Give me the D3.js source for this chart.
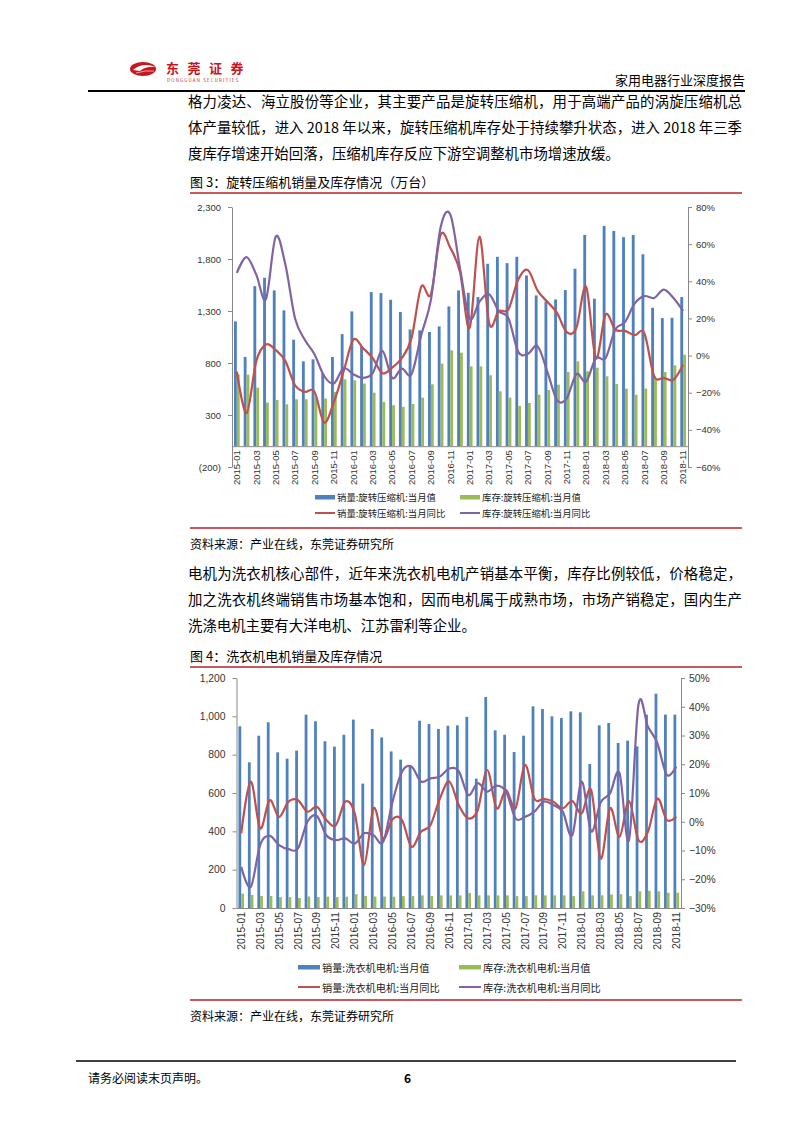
<!DOCTYPE html>
<html>
<head>
<meta charset="utf-8">
<script src="https://cdn.jsdelivr.net/npm/d3@7"></script>
<style>
  body { margin: 0; background: #fff; }
  svg text { font-family: "Noto Sans CJK SC", "Noto Sans", sans-serif; }
  .ax text { font-family: "Liberation Sans", Arial, sans-serif; fill: #333; }
  .ax path, .ax line { stroke: #888; }
</style>
</head>
<body>
<svg id="page" width="802" height="1133"></svg>
<script>
// 月份（两张图共用）
const months = [
  "2015-01","2015-02","2015-03","2015-04","2015-05","2015-06","2015-07","2015-08","2015-09","2015-10","2015-11","2015-12",
  "2016-01","2016-02","2016-03","2016-04","2016-05","2016-06","2016-07","2016-08","2016-09","2016-10","2016-11","2016-12",
  "2017-01","2017-02","2017-03","2017-04","2017-05","2017-06","2017-07","2017-08","2017-09","2017-10","2017-11","2017-12",
  "2018-01","2018-02","2018-03","2018-04","2018-05","2018-06","2018-07","2018-08","2018-09","2018-10","2018-11"
];

// 图3 旋转压缩机（万台，同比%）
const compSales = [1200, 858, 1539, 1619, 1498, 1306, 1024, 816, 835, 700, 858, 1078,
  1296, 960, 1482, 1472, 1408, 1290, 1123, 1114, 1098, 1152, 1344, 1498,
  1475, 1434, 1754, 1821, 1760, 1821, 1642, 1450, 1392, 1411, 1501, 1706,
  2032, 1418, 2118, 2070, 2010, 2032, 1846, 1331, 1232, 1235, 1434];
const compStock = [690, 688, 563, 419, 445, 403, 451, 451, 470, 458, 522, 643,
  634, 602, 515, 426, 394, 378, 406, 467, 595, 794, 922, 899,
  768, 768, 682, 528, 467, 387, 416, 496, 540, 592, 714, 816,
  720, 755, 672, 598, 554, 496, 554, 650, 714, 778, 880];
const compSalesYoy = [-8.6, -31, -3, 6, 3, -3, -16, -19.5, -19.5, -36, -25, -8.6,
  8.5, 4, -1.4, -9.5, -6.5, -1.4, 9.4, 37, 33, 65, 58, 45,
  15, 64, 17.5, 24, 25, 41, 46, 35, 29, 23, 12.6, 15,
  37, -1.4, 22, 14, 13.3, 11, 12, -11, -12, -13, -5];
const compStockYoy = [44.5, 53, 43.6, 30.5, 64, 49, 20, 8.5, 0.7, -11, -15, -6.8,
  -10, -12, -9.5, 2.5, -12, -7, -10, 11, 30, 69, 76, 47,
  20, 29, 33, 24, 20, 2, 1, 5, -8.6, -24, -23, -10,
  -14, -1.4, -1.4, 14, 18, 28, 32, 31, 35.5, 31, 24];

// 图4 洗衣机电机
const motorSales = [948, 760, 899, 969, 812, 779, 821, 1009, 974, 870, 842, 904,
  983, 649, 934, 890, 817, 774, 740, 977, 960, 934, 951, 953,
  997, 675, 1101, 927, 904, 814, 899, 1052, 1038, 1000, 991, 1026,
  1021, 751, 953, 965, 861, 873, 843, 1009, 1118, 1009, 1009];
const motorStock = [75, 68, 63, 63, 57, 57, 52, 60, 57, 59, 57, 59,
  72, 63, 60, 60, 59, 62, 62, 66, 62, 66, 66, 66,
  78, 66, 66, 66, 66, 62, 62, 66, 66, 66, 66, 62,
  87, 66, 66, 70, 72, 62, 87, 90, 87, 80, 80];
const motorSalesYoy = [-4, 14, -2.3, 7.5, 1.7, 7, 7.5, 3.5, 5.2, 0.6, -1.2, 7,
  2.9, -15, 4.7, -5.8, 0.9, 0.6, -8.7, -3.5, -1.2, 8, 14, 5.8,
  1.2, 4, 18, 4.7, 11, 4.7, 19.8, 8, 8, 7, 4.7, 7.2,
  2.9, 11, -12.8, 4.7, -5.2, 7.2, -6.4, -3.5, 8, 0.6, 1.7];
const motorStockYoy = [-15.7, -22.7, -8.1, -4.9, -8.1, -9.5, -9.3, 0, 2, -4.7, -6.4, -5.8,
  -7.6, -4, -4.7, -7, 7, 17.4, 19.2, 14, 15.1, 15.7, 18.5, 17.6,
  9.3, 13.4, 10.5, 12.6, 10.5, 1.2, 1.7, 3.5, 7, 5.8, 3.5, -4.7,
  14, -3.3, 6.7, 9.9, 16.9, -6.4, 40.7, 33.1, 27.3, 16.3, 19.2];

// 轴刻度
const compLeftTicks = [-200, 300, 800, 1300, 1800, 2300];
const compRightTicks = [-0.6, -0.4, -0.2, 0, 0.2, 0.4, 0.6, 0.8];
const motorLeftTicks = [0, 200, 400, 600, 800, 1000, 1200];
const motorRightTicks = [-0.3, -0.2, -0.1, 0, 0.1, 0.2, 0.3, 0.4, 0.5];

const BLUE = "#4F81BD", GREEN = "#9BBB59", RED = "#C0504D", PURPLE = "#8064A2", DARKRED = "#B8202A";

const svg = d3.select("#page");

// ---------- 页眉 ----------
const logo = svg.append("g");
logo.append("ellipse").attr("cx", 143).attr("cy", 69).attr("rx", 13).attr("ry", 7).attr("fill", "#C8161D");
logo.append("path").attr("d", "M133,70 Q142,62 156,67 Q146,66 140,71 Z").attr("fill", "#fff");
logo.append("path").attr("d", "M136,73 Q146,70 154,71").attr("stroke", "#E8A0A0").attr("stroke-width", 1).attr("fill", "none");
logo.append("text").attr("x", 166).attr("y", 73).attr("fill", "#C8161D")
  .attr("font-size", 13).attr("font-weight", "bold").attr("letter-spacing", 8.5).text("东莞证券");
logo.append("text").attr("x", 167).attr("y", 81.5).attr("fill", "#C8161D")
  .attr("font-size", 4.4).attr("letter-spacing", 1.2).attr("font-family", "Liberation Sans").text("DONGGUAN SECURITIES");

svg.append("text").attr("x", 745).attr("y", 85).attr("text-anchor", "end")
  .attr("font-size", 13).attr("fill", "#000").text("家用电器行业深度报告");
svg.append("line").attr("x1", 88).attr("x2", 745).attr("y1", 91).attr("y2", 91)
  .attr("stroke", "#000").attr("stroke-width", 1.8);

// ---------- 正文 ----------
function para(lines, y0, lastFull) {
  lines.forEach((t, i) => {
    const el = svg.append("text").attr("x", 188).attr("y", y0 + i * 26)
      .attr("dominant-baseline", "central").attr("font-size", 14.4).attr("fill", "#000").text(t);
    if (i < lines.length - 1 || lastFull) el.attr("textLength", 554).attr("lengthAdjust", "spacing");
  });
}
para(["格力凌达、海立股份等企业，其主要产品是旋转压缩机，用于高端产品的涡旋压缩机总",
      "体产量较低，进入 2018 年以来，旋转压缩机库存处于持续攀升状态，进入 2018 年三季",
      "度库存增速开始回落，压缩机库存反应下游空调整机市场增速放缓。"], 100, false);
para(["电机为洗衣机核心部件，近年来洗衣机电机产销基本平衡，库存比例较低，价格稳定，",
      "加之洗衣机终端销售市场基本饱和，因而电机属于成熟市场，市场产销稳定，国内生产",
      "洗涤电机主要有大洋电机、江苏雷利等企业。"], 572, false);

function figTitle(t, y) {
  svg.append("text").attr("x", 190).attr("y", y).attr("dominant-baseline", "central")
    .attr("font-size", 13).attr("fill", "#000").text(t);
  svg.append("line").attr("x1", 190).attr("x2", 742).attr("y1", y + 12).attr("y2", y + 12)
    .attr("stroke", DARKRED).attr("stroke-width", 1.5);
}
function source(y) {
  svg.append("line").attr("x1", 190).attr("x2", 742).attr("y1", y).attr("y2", y)
    .attr("stroke", DARKRED).attr("stroke-width", 1.5);
  svg.append("text").attr("x", 190).attr("y", y + 15).attr("dominant-baseline", "central")
    .attr("font-size", 12).attr("fill", "#000").text("资料来源：产业在线，东莞证券研究所");
}

figTitle("图 3：旋转压缩机销量及库存情况（万台）", 181);
source(528);
figTitle("图 4：洗衣机电机销量及库存情况", 655);
source(1000);

// ---------- 图表 ----------
const fmtLeft = v => v < 0 ? `(${d3.format(",")(-v)})` : d3.format(",")(v);

function drawChart(c) {
  const g = svg.append("g");
  const x = d3.scaleBand().domain(months).range([c.x0, c.x1]);
  const yL = d3.scaleLinear().domain(c.leftDomain).range([c.yBottom, c.yTop]);
  const yR = d3.scaleLinear().domain(c.rightDomain).range([c.yBottom, c.yTop]);
  const bw = x.bandwidth() / 3.4;
  const cx = i => x(months[i]) + x.bandwidth() / 2;

  g.selectAll(".salesBar").data(c.sales).enter().append("rect")
    .attr("class", "salesBar")
    .attr("x", (d, i) => cx(i) - bw)
    .attr("y", d => yL(d))
    .attr("width", bw)
    .attr("height", d => yL(0) - yL(d))
    .attr("fill", BLUE);
  g.selectAll(".stockBar").data(c.stock).enter().append("rect")
    .attr("class", "stockBar")
    .attr("x", (d, i) => cx(i))
    .attr("y", d => yL(d))
    .attr("width", bw)
    .attr("height", d => yL(0) - yL(d))
    .attr("fill", GREEN);

  // 左轴
  g.append("g").attr("class", "ax").attr("transform", `translate(${c.x0},0)`)
    .call(d3.axisLeft(yL).tickValues(c.leftTicks).tickFormat(fmtLeft).tickSize(4).tickSizeOuter(0).tickPadding(7))
    .call(a => a.selectAll("text").attr("font-size", c.fs));
  // 右轴
  g.append("g").attr("class", "ax").attr("transform", `translate(${c.x1},0)`)
    .call(d3.axisRight(yR).tickValues(c.rightTicks).tickFormat(d3.format(".0%")).tickSize(4).tickSizeOuter(0).tickPadding(4))
    .call(a => a.selectAll("text").attr("font-size", c.fs));
  // 类别轴
  const xa = g.append("g").attr("class", "ax").attr("transform", `translate(0,${yL(0)})`)
    .call(d3.axisBottom(x).tickValues(months.filter((m, i) => i % 2 === 0)).tickSize(0).tickSizeOuter(0));
  xa.selectAll("text")
    .attr("transform", "rotate(-90)")
    .attr("x", -c.labelGap).attr("y", 0).attr("dy", "0.35em")
    .attr("font-size", c.fs)
    .style("text-anchor", "end");

  // 同比曲线
  const line = d3.line().x((d, i) => cx(i)).y(d => yR(d / 100)).curve(d3.curveCatmullRom.alpha(0));
  g.append("path").datum(c.salesYoy).attr("d", line)
    .attr("fill", "none").attr("stroke", RED).attr("stroke-width", 2.2);
  g.append("path").datum(c.stockYoy).attr("d", line)
    .attr("fill", "none").attr("stroke", PURPLE).attr("stroke-width", 2.2);

  // 图例
  const lg = g.append("g").attr("font-size", c.legendFs).attr("fill", "#222");
  const items = [
    { t: c.names[0], color: BLUE, bar: true, col: 0, row: 0 },
    { t: c.names[1], color: GREEN, bar: true, col: 1, row: 0 },
    { t: c.names[2], color: RED, bar: false, col: 0, row: 1 },
    { t: c.names[3], color: PURPLE, bar: false, col: 1, row: 1 }
  ];
  items.forEach(it => {
    const xx = c.legendX[it.col], yy = c.legendY[it.row];
    if (it.bar) lg.append("rect").attr("x", xx).attr("y", yy - 2).attr("width", c.swW).attr("height", 4.5).attr("fill", it.color);
    else lg.append("line").attr("x1", xx).attr("x2", xx + c.swW).attr("y1", yy).attr("y2", yy)
      .attr("stroke", it.color).attr("stroke-width", 2);
    lg.append("text").attr("x", xx + c.swW + 2).attr("y", yy).attr("dominant-baseline", "central").text(it.t);
  });
}

drawChart({
  x0: 232, x1: 688, yTop: 207, yBottom: 467,
  leftDomain: [-200, 2300], rightDomain: [-0.6, 0.8],
  leftTicks: compLeftTicks, rightTicks: compRightTicks,
  sales: compSales, stock: compStock, salesYoy: compSalesYoy, stockYoy: compStockYoy,
  fs: 9.5, labelGap: 4,
  names: ["销量:旋转压缩机:当月值", "库存:旋转压缩机:当月值", "销量:旋转压缩机:当月同比", "库存:旋转压缩机:当月同比"],
  legendX: [315, 460], legendY: [497, 513], swW: 20, legendFs: 9.4
});

drawChart({
  x0: 236.5, x1: 681, yTop: 678, yBottom: 908,
  leftDomain: [0, 1200], rightDomain: [-0.3, 0.5],
  leftTicks: motorLeftTicks, rightTicks: motorRightTicks,
  sales: motorSales, stock: motorStock, salesYoy: motorSalesYoy, stockYoy: motorStockYoy,
  fs: 10.3, labelGap: 4,
  names: ["销量:洗衣机电机:当月值", "库存:洗衣机电机:当月值", "销量:洗衣机电机:当月同比", "库存:洗衣机电机:当月同比"],
  legendX: [298, 459], legendY: [967, 987], swW: 22, legendFs: 10.2
});

// ---------- 页脚 ----------
svg.append("line").attr("x1", 76).attr("x2", 736).attr("y1", 1061).attr("y2", 1061)
  .attr("stroke", "#000").attr("stroke-width", 1.5);
svg.append("text").attr("x", 88).attr("y", 1077).attr("dominant-baseline", "central")
  .attr("font-size", 12).attr("fill", "#000").text("请务必阅读末页声明。");
svg.append("text").attr("x", 404).attr("y", 1077).attr("dominant-baseline", "central")
  .attr("font-size", 12).attr("font-weight", "bold").attr("font-family", "Liberation Sans").attr("fill", "#000").text("6");
</script>
</body>
</html>
